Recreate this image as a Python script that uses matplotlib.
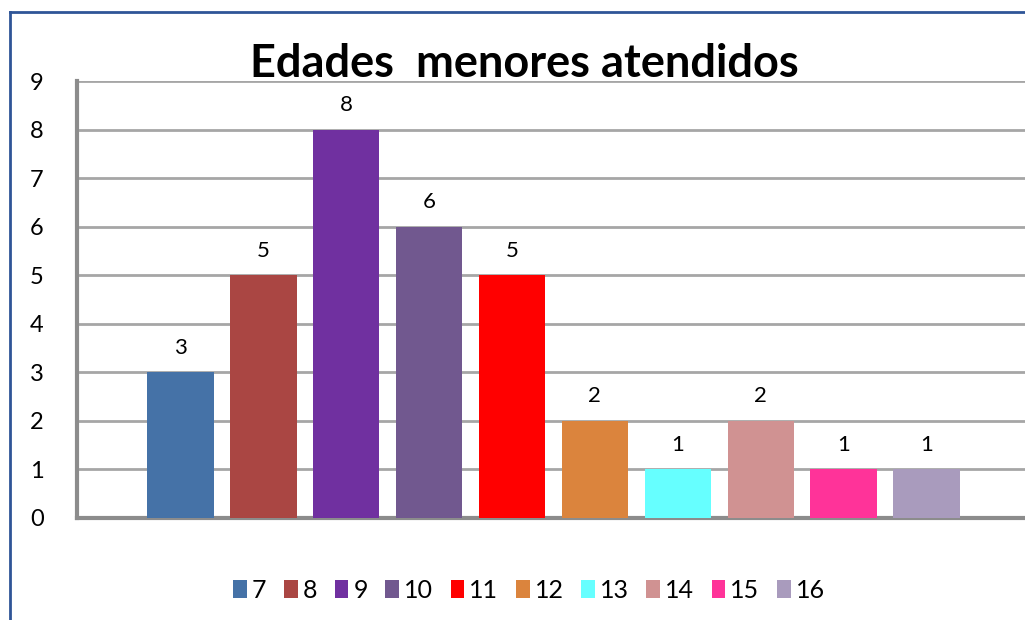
import matplotlib
matplotlib.use("Agg")
import matplotlib.pyplot as plt
from matplotlib.lines import Line2D
from matplotlib.patches import Patch

ages = ["7", "8", "9", "10", "11", "12", "13", "14", "15", "16"]
counts = [3, 5, 8, 6, 5, 2, 1, 2, 1, 1]
colors = ["#4572A7", "#AA4643", "#7030A0", "#71588F", "#FF0000",
          "#DB843D", "#66FFFF", "#D09292", "#FF3399", "#A99BBD"]
yticks = list(range(0, 10))
title = "Edades  menores atendidos"

plt.rcParams['font.family'] = ['Lato', 'DejaVu Sans']

W, H = 1025, 620
fig = plt.figure(figsize=(W / 100, H / 100), dpi=100)

# outer frame (left and top visible)
fig.add_artist(Line2D([10 / W, 10 / W], [0, 1 - 12 / H], color="#2F5597", lw=2))
fig.add_artist(Line2D([10 / W, 1], [1 - 12 / H, 1 - 12 / H], color="#2F5597", lw=2))

left, right, top, bottom = 77, 1025, 81, 518
ax = fig.add_axes([left / W, 1 - bottom / H, (right - left) / W, (bottom - top) / H])

x = list(range(len(ages)))
bars = ax.bar(x, counts, width=0.8, color=colors, zorder=3)
for xi, v in zip(x, counts):
    ax.text(xi, v + 0.3, str(v), ha="center", va="bottom", fontsize=16)

ax.set_xlim(-1.25, 10.19)
ax.set_ylim(0, 9)
ax.set_yticks(yticks)
ax.set_xticks([])
ax.tick_params(axis="y", length=0, pad=24, labelsize=17)
ax.grid(axis="y", color="#a6a6a6", lw=2, zorder=0)
for s in ["top", "right"]:
    ax.spines[s].set_visible(False)
for s in ["left", "bottom"]:
    ax.spines[s].set_color("#8c8c8c")
    ax.spines[s].set_linewidth(3)

fig.text(524 / W, 1 - 77 / H, title, ha="center", va="baseline",
         fontsize=32.5, fontweight="bold")

handles = [Patch(facecolor=c) for c in colors]
fig.legend(handles, ages, loc="center", bbox_to_anchor=(529 / W, 1 - 590 / H),
           ncol=10, frameon=False, fontsize=18, handlelength=0.55, handleheight=0.75,
           handletextpad=0.2, columnspacing=0.7)

fig.savefig("out.png", dpi=100)
